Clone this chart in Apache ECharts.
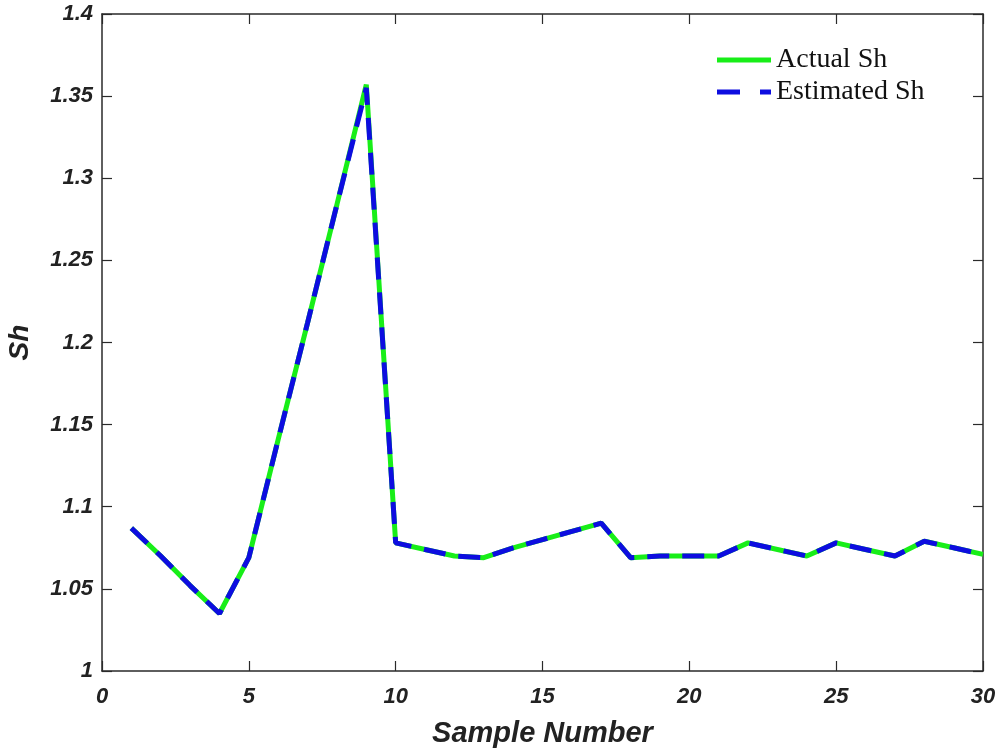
<!DOCTYPE html>
<html>
<head>
<meta charset="utf-8">
<script src="https://cdn.jsdelivr.net/npm/echarts@6/dist/echarts.min.js"></script>
<style>
  html, body { margin: 0; padding: 0; background: #fff; }
  #chart { width: 999px; height: 751px; }
</style>
</head>
<body>
<div id="chart"></div>
<script>
// Sample numbers and Sherwood number values
const samples = [1,2,3,4,5,6,7,8,9,10,11,12,13,14,15,16,17,18,19,20,21,22,23,24,25,26,27,28,29,30];
const actualSh = [1.087,1.070,1.052,1.035,1.069,1.141,1.212,1.284,1.357,1.078,1.074,1.070,1.069,1.075,1.080,1.085,1.090,1.069,1.070,1.070,1.070,1.078,1.074,1.070,1.078,1.074,1.070,1.079,1.075,1.071];
const estimatedSh = [1.087,1.070,1.052,1.035,1.069,1.141,1.212,1.284,1.355,1.078,1.074,1.070,1.069,1.075,1.080,1.085,1.090,1.069,1.070,1.070,1.070,1.078,1.074,1.070,1.078,1.074,1.070,1.079,1.075,1.071];
const xTicks = { min: 0, max: 30, step: 5 };
const yTicks = { min: 1, max: 1.4, step: 0.05 };

const pairs = (ys) => samples.map((x, i) => [x, ys[i]]);

const axisColor = '#2a2a2a';
const green = '#18ee18';
const blue = '#0d0de0';
const tickFont = {
  fontFamily: "'Liberation Sans', Arial, sans-serif",
  fontWeight: 'bold',
  fontStyle: 'italic',
  fontSize: 22,
  color: '#222'
};

const chart = echarts.init(document.getElementById('chart'), null, { renderer: 'canvas' });

const baseAxisLine = { show: true, onZero: false, lineStyle: { color: axisColor, width: 1.5 } };
const baseTick = { show: true, inside: true, length: 10, lineStyle: { color: axisColor, width: 1.2 } };

chart.setOption({
  animation: false,
  backgroundColor: '#fff',
  grid: { left: 102, right: 16, top: 14, bottom: 80, containLabel: false, outerBoundsMode: 'none' },
  legend: {
    orient: 'vertical',
    left: 717,
    top: 46,
    padding: 0,
    itemWidth: 54,
    itemHeight: 5,
    itemGap: 4,
    textStyle: {
      fontFamily: "'Liberation Serif', 'DejaVu Serif', serif",
      fontSize: 28,
      color: '#111'
    },
    data: [
      { name: 'Actual Sh', icon: 'rect', itemStyle: { color: green } },
      { name: 'Estimated Sh', icon: 'path://M0,0H23V5H0Z M43,0H54V5H43Z', itemStyle: { color: blue } }
    ]
  },
  xAxis: [
    {
      type: 'value',
      min: xTicks.min, max: xTicks.max, interval: xTicks.step,
      name: 'Sample Number',
      nameLocation: 'middle',
      nameGap: 48,
      nameTextStyle: Object.assign({}, tickFont, { fontSize: 29 }),
      axisLine: baseAxisLine,
      axisTick: baseTick,
      axisLabel: Object.assign({ margin: 15 }, tickFont),
      splitLine: { show: false }
    },
    {
      type: 'value', position: 'top',
      min: xTicks.min, max: xTicks.max, interval: xTicks.step,
      axisLine: baseAxisLine,
      axisTick: baseTick,
      axisLabel: { show: false },
      splitLine: { show: false }
    }
  ],
  yAxis: [
    {
      type: 'value',
      min: yTicks.min, max: yTicks.max, interval: yTicks.step,
      name: 'Sh',
      nameLocation: 'middle',
      nameGap: 68,
      nameRotate: 90,
      nameTextStyle: Object.assign({}, tickFont, { fontSize: 28 }),
      axisLine: baseAxisLine,
      axisTick: baseTick,
      axisLabel: Object.assign({ margin: 9, formatter: (v) => String(+v.toFixed(2)) }, tickFont),
      splitLine: { show: false }
    },
    {
      type: 'value', position: 'right',
      min: yTicks.min, max: yTicks.max, interval: yTicks.step,
      axisLine: baseAxisLine,
      axisTick: baseTick,
      axisLabel: { show: false },
      splitLine: { show: false }
    }
  ],
  series: [
    {
      name: 'Actual Sh',
      type: 'line',
      data: pairs(actualSh),
      showSymbol: false,
      symbol: 'none',
      color: green,
      lineStyle: { color: green, width: 5, cap: 'butt', join: 'bevel' },
      z: 2
    },
    {
      name: 'Estimated Sh',
      type: 'line',
      data: pairs(estimatedSh),
      showSymbol: false,
      symbol: 'none',
      color: blue,
      lineStyle: { color: blue, width: 5, type: [22, 13], cap: 'butt', join: 'bevel' },
      z: 3
    }
  ]
});
</script>
</body>
</html>
